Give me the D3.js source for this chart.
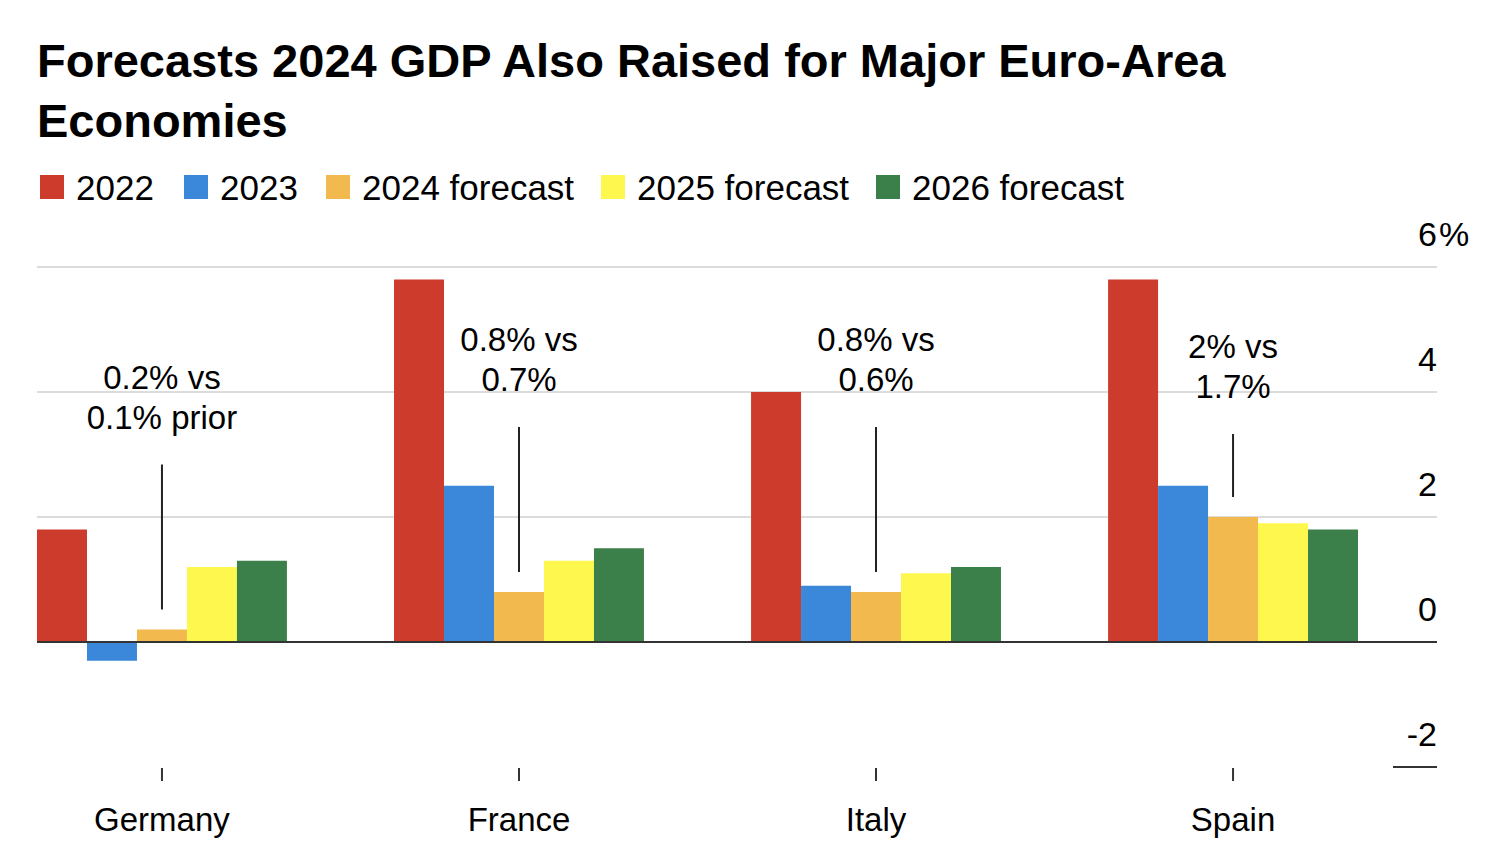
<!DOCTYPE html>
<html>
<head>
<meta charset="utf-8">
<script src="https://cdn.jsdelivr.net/npm/d3@7"></script>
<style>
  html, body { margin: 0; padding: 0; background: #fff; }
  svg { display: block; font-family: "Liberation Sans", Arial, Helvetica, sans-serif; }
</style>
</head>
<body>
<svg id="chart" width="1500" height="850"></svg>
<script>
// ---- data ----
const countries = ["Germany", "France", "Italy", "Spain"];
const seriesNames = ["2022", "2023", "2024 forecast", "2025 forecast", "2026 forecast"];
const seriesColors = ["#cd3b2d", "#3b88db", "#f1b94e", "#fef84e", "#3b804a"];
const v2022 = [1.8, 5.8, 4.0, 5.8];
const v2023 = [-0.3, 2.5, 0.9, 2.5];
const v2024 = [0.2, 0.8, 0.8, 2.0];
const v2025 = [1.2, 1.3, 1.1, 1.9];
const v2026 = [1.3, 1.5, 1.2, 1.8];
const yTicks = [-2, 0, 2, 4, 6];
const annotationLines = [
  ["0.2% vs", "0.1% prior"],
  ["0.8% vs", "0.7%"],
  ["0.8% vs", "0.6%"],
  ["2% vs", "1.7%"]
];
const title = ["Forecasts 2024 GDP Also Raised for Major Euro-Area", "Economies"];

const seriesValues = [v2022, v2023, v2024, v2025, v2026];

// ---- layout ----
const svg = d3.select("#chart");
const font = '"Liberation Sans", Arial, Helvetica, sans-serif';
const left = 37, right = 1437;

const x = d3.scaleBand().domain(countries).range([37, 1358]).paddingInner(0.3).paddingOuter(0);
const xs = d3.scaleBand().domain(seriesNames).range([0, x.bandwidth()]).padding(0);
const y = d3.scaleLinear().domain([-2, 6]).range([767, 267]);

// title
svg.append("g").selectAll("text").data(title).join("text")
  .attr("x", 37).attr("y", (d, i) => 77 + i * 60)
  .attr("font-size", 47).attr("font-weight", "bold").attr("fill", "#000")
  .text(d => d);

// legend
const legendX = [40, 184, 326, 601, 876];
const lg = svg.append("g").selectAll("g").data(seriesNames).join("g")
  .attr("transform", (d, i) => `translate(${legendX[i]},175)`);
lg.append("rect").attr("width", 24).attr("height", 24).attr("fill", (d, i) => seriesColors[i]);
lg.append("text").attr("x", 36).attr("y", 25).attr("font-size", 35).attr("fill", "#000").text(d => d);

// gridlines
const grid = svg.append("g");
yTicks.filter(t => t > 0).forEach(t => {
  grid.append("line").attr("x1", left).attr("x2", right).attr("y1", y(t)).attr("y2", y(t))
    .attr("stroke", "#dcdcdc").attr("stroke-width", 2);
});

// bars
const rows = countries.map((c, i) => ({ c, vals: seriesNames.map((s, j) => ({ s, j, v: seriesValues[j][i] })) }));
const bg = svg.append("g").selectAll("g").data(rows).join("g")
  .attr("transform", d => `translate(${x(d.c)},0)`);
bg.selectAll("rect").data(d => d.vals).join("rect")
  .attr("x", d => xs(d.s)).attr("width", xs.bandwidth())
  .attr("y", d => y(Math.max(0, d.v)))
  .attr("height", d => Math.abs(y(d.v) - y(0)))
  .attr("fill", d => seriesColors[d.j]);

// zero line and -2 tick
svg.append("line").attr("x1", left).attr("x2", right).attr("y1", y(0)).attr("y2", y(0))
  .attr("stroke", "#333").attr("stroke-width", 2);
svg.append("line").attr("x1", 1393).attr("x2", right).attr("y1", y(-2)).attr("y2", y(-2))
  .attr("stroke", "#333").attr("stroke-width", 2);

// y labels (right)
const yl = svg.append("g");
yTicks.forEach(t => {
  yl.append("text").attr("x", right).attr("y", y(t) - 21).attr("text-anchor", "end")
    .attr("font-size", 34).attr("fill", "#000").text(t);
  if (t === 6) {
    yl.append("text").attr("x", right + 2).attr("y", y(t) - 21).attr("text-anchor", "start")
      .attr("font-size", 34).attr("fill", "#000").text("%");
  }
});

// bottom category ticks and labels
const cx = c => x(c) + x.bandwidth() / 2;
svg.append("g").selectAll("line").data(countries).join("line")
  .attr("x1", cx).attr("x2", cx).attr("y1", 768).attr("y2", 781)
  .attr("stroke", "#333").attr("stroke-width", 2);
svg.append("g").selectAll("text").data(countries).join("text")
  .attr("x", cx).attr("y", 831).attr("text-anchor", "middle")
  .attr("font-size", 33).attr("fill", "#000").text(d => d);

// annotations
const annLen = [145, 145, 145, 63];
const ag = svg.append("g").selectAll("g").data(countries).join("g");
ag.each(function (c, i) {
  const g = d3.select(this);
  const xc = x(c) + xs("2024 forecast") + xs.bandwidth() / 2;
  const bottom = y(v2024[i]) - 20;
  const top = bottom - annLen[i];
  g.append("line").attr("x1", xc).attr("x2", xc).attr("y1", top).attr("y2", bottom)
    .attr("stroke", "#222").attr("stroke-width", 2);
  annotationLines[i].forEach((t, k) => {
    g.append("text").attr("x", xc).attr("y", top - 36 - (1 - k) * 40)
      .attr("text-anchor", "middle").attr("font-size", 33).attr("fill", "#000").text(t);
  });
});
</script>
</body>
</html>
